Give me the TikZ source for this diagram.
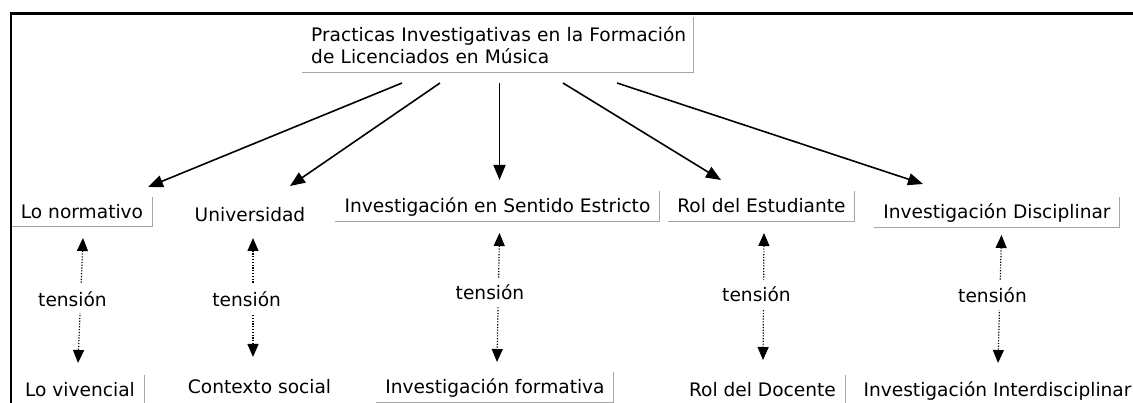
\documentclass[tikz,border=0pt]{standalone}
\usepackage{fontspec}
\setmainfont{DejaVu Sans}
\usetikzlibrary{arrows.meta}
\definecolor{boxgray}{RGB}{165,165,165}
\begin{document}
\begin{tikzpicture}[x=1pt,y=-1pt,
  every node/.style={font=\fontsize{18.6}{22}\selectfont, inner sep=0pt},
  lbl/.style={anchor=base, text height=14pt, text depth=1pt, inner xsep=9pt, inner ysep=7.5pt},
  tens/.style={anchor=base, fill=white, inner xsep=2pt, text height=18pt, text depth=3pt, inner ysep=4pt},
  boxline/.style={draw=boxgray, line width=1pt},
  frame/.style={line width=2.6pt},
  mainarrow/.style={line width=1.6pt, -{Triangle[length=15pt,width=12pt]}},
  tarr/.style={line width=1.2pt, dash pattern=on 1.2pt off 1.6pt, {Triangle[length=13pt,width=11pt]}-{Triangle[length=13pt,width=11pt]}}
]
\useasboundingbox (0,0) rectangle (1133,403);
\draw[frame] (10.8,410) -- (10.8,13.8) -- (1140,13.8);

% title
\node[anchor=north west, text width=373pt, align=left, inner xsep=9pt, inner ysep=0pt, minimum height=55pt] (T) at (302,17)
  {\mbox{Practicas Investigativas en la Formación}\\\mbox{de Licenciados en Música}};

% middle row
\node[lbl] (N1) at (82,218.3) {Lo normativo};
\node[lbl] (N2) at (250,222) {Universidad};
\node[lbl] (N3) at (497.5,213) {Investigación en Sentido Estricto};
\node[lbl] (N4) at (761.5,213) {Rol del Estudiante};
\node[lbl] (N5) at (997,218.5) {Investigación Disciplinar};

% bottom row
\node[lbl] (B1) at (80,396.7) {Lo vivencial};
\node[lbl] (B2) at (259.5,393) {Contexto social};
\node[lbl] (B3) at (495,393.5) {Investigación formativa};
\node[lbl] (B4) at (762.5,396.7) {Rol del Docente};
\node[lbl] (B5) at (997.5,396.7) {Investigación Interdisciplinar};

% box edges
\foreach \n in {T,N1,N3,N4,N5,B1,B3,B4}
  \draw[boxline] (\n.north east) -- (\n.south east) -- (\n.south west);

% main arrows
\coordinate (s1) at (402,83);   \coordinate (e1) at (148,187);
\coordinate (s2) at (440,83);   \coordinate (e2) at (290,186);
\coordinate (s3) at (499.5,83); \coordinate (e3) at (499.5,180);
\coordinate (s4) at (563,83);   \coordinate (e4) at (721,180);
\coordinate (s5) at (617,83);   \coordinate (e5) at (923,184);
\foreach \i in {1,...,5}
  \draw[mainarrow] (s\i) -- (e\i);

% tension arrows
\coordinate (u1) at (83,238);     \coordinate (d1) at (78,363);
\coordinate (u2) at (253,238);    \coordinate (d2) at (253,357);
\coordinate (u3) at (499.5,233);  \coordinate (d3) at (497,362);
\coordinate (u4) at (764,233);    \coordinate (d4) at (763,360);
\coordinate (u5) at (1001.5,235); \coordinate (d5) at (998,363);
\foreach \i in {1,...,5}
  \draw[tarr] (u\i) -- (d\i);

\node[tens] (K1) at (72.5,306.5) {tensión};
\node[tens] (K2) at (246.7,306.5) {tensión};
\node[tens] (K3) at (490,300) {tensión};
\node[tens] (K4) at (756.5,301.7) {tensión};
\node[tens] (K5) at (992.5,303) {tensión};
\end{tikzpicture}
\end{document}
